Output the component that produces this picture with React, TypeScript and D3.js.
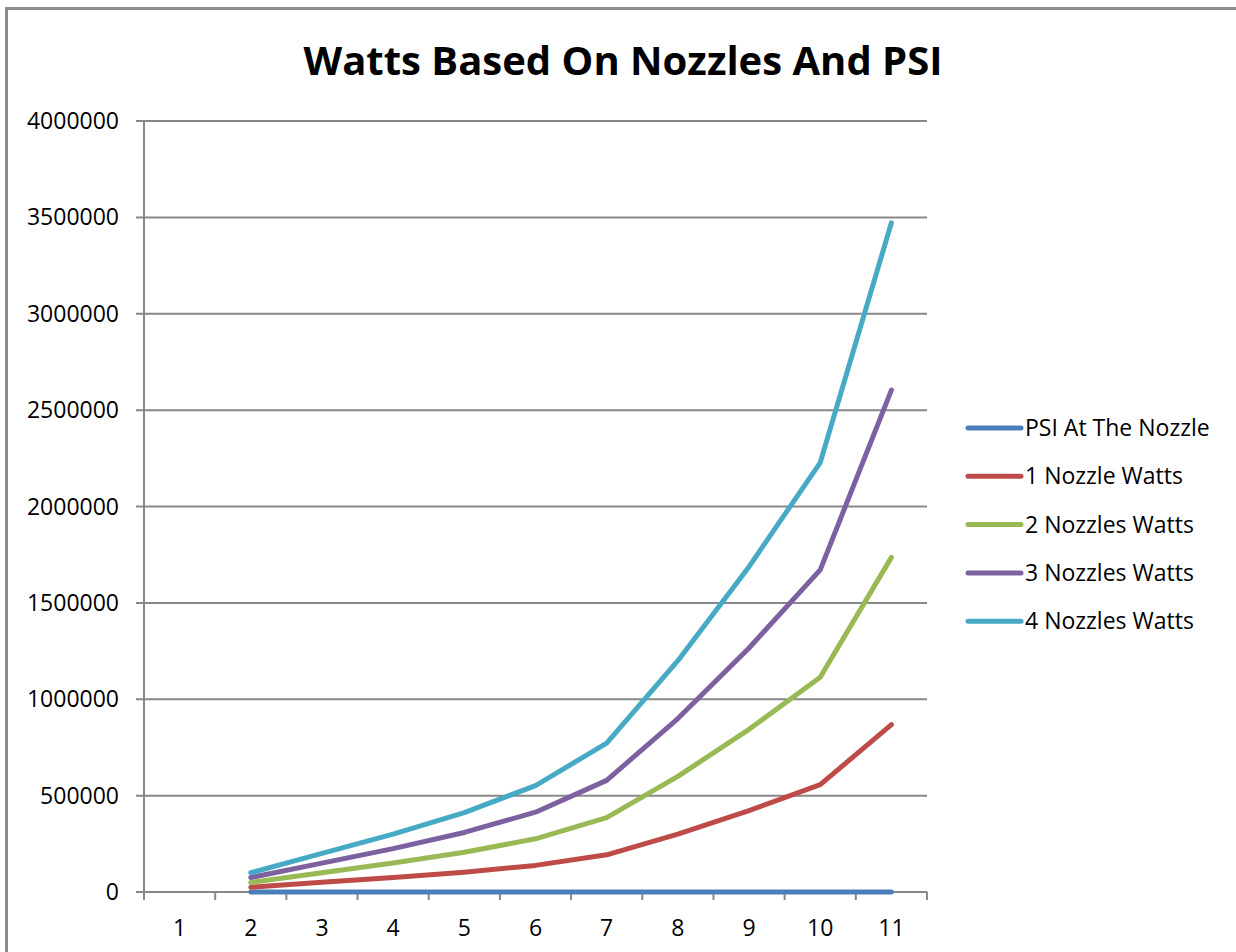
import React from "react";
import * as d3 from "d3";

const categories = ["1", "2", "3", "4", "5", "6", "7", "8", "9", "10", "11"];
const yTicks = [0, 500000, 1000000, 1500000, 2000000, 2500000, 3000000, 3500000, 4000000];
const seriesNames = ["PSI At The Nozzle", "1 Nozzle Watts", "2 Nozzles Watts", "3 Nozzles Watts", "4 Nozzles Watts"];
const seriesColors = ["#4A7EBB", "#BE4B48", "#98B954", "#7D60A0", "#46AAC5"];
const psiValues = [null, 20, 40, 60, 80, 100, 120, 150, 180, 200, 250];
const oneNozzle = [null, 25000, 50000, 75000, 103000, 138000, 193000, 300000, 422000, 557000, 868000];
const twoNozzles = [null, 50000, 100000, 150000, 206000, 276000, 386000, 600000, 844000, 1114000, 1736000];
const threeNozzles = [null, 75000, 150000, 225000, 309000, 414000, 579000, 900000, 1266000, 1671000, 2604000];
const fourNozzles = [null, 100000, 200000, 300000, 412000, 552000, 772000, 1200000, 1688000, 2228000, 3472000];

const seriesValues = [psiValues, oneNozzle, twoNozzles, threeNozzles, fourNozzles];

const W = 1236;
const H = 952;
const left = 144;
const right = 927;
const top = 121;
const bottom = 892;
const font = "'Open Sans', 'Noto Sans', sans-serif";

export default function App() {
  const x = d3.scaleBand<string>().domain(categories).range([left, right]).padding(0);
  const y = d3.scaleLinear().domain([0, 4000000]).range([bottom, top]);
  const cx = (c: string) => (x(c) as number) + x.bandwidth() / 2;

  const line = d3
    .line<[string, number | null]>()
    .defined((d) => d[1] !== null)
    .x((d) => cx(d[0]))
    .y((d) => y(d[1] as number));

  const boundaries = categories.map((c) => x(c) as number).concat([right]);

  return (
    <svg width={W} height={H} style={{ position: "absolute", left: 0, top: 0, background: "#fff" }}>
      <rect x={6.5} y={8.5} width={1240} height={1000} fill="#fff" stroke="#8c8c8c" strokeWidth={3} />
      <text x={623} y={75} textAnchor="middle" fontFamily={font} fontWeight="bold" fontSize={40} fill="#000">
        Watts Based On Nozzles And PSI
      </text>
      {yTicks.map((t) => (
        <g key={t}>
          <line x1={136} x2={right} y1={y(t)} y2={y(t)} stroke="#888" strokeWidth={2} />
          <text x={119} y={y(t) + 8} textAnchor="end" fontFamily={font} fontSize={23} fill="#000">
            {t}
          </text>
        </g>
      ))}
      <line x1={left} x2={left} y1={top} y2={bottom} stroke="#888" strokeWidth={2} />
      {boundaries.map((b, i) => (
        <line key={i} x1={b} x2={b} y1={bottom} y2={bottom + 8} stroke="#888" strokeWidth={2} />
      ))}
      {categories.map((c) => (
        <text key={c} x={cx(c)} y={936} textAnchor="middle" fontFamily={font} fontSize={23} fill="#000">
          {c}
        </text>
      ))}
      {seriesValues.map((vals, i) => (
        <path
          key={seriesNames[i]}
          d={line(categories.map((c, j) => [c, vals[j]] as [string, number | null])) || ""}
          fill="none"
          stroke={seriesColors[i]}
          strokeWidth={5}
          strokeLinecap="round"
          strokeLinejoin="round"
        />
      ))}
      {seriesNames.map((n, i) => {
        const ly = 428 + i * 48.3;
        return (
          <g key={n}>
            <line x1={968} x2={1021} y1={ly} y2={ly} stroke={seriesColors[i]} strokeWidth={5} strokeLinecap="round" />
            <text x={1025} y={ly + 8} fontFamily={font} fontSize={23} fill="#000">
              {n}
            </text>
          </g>
        );
      })}
    </svg>
  );
}
